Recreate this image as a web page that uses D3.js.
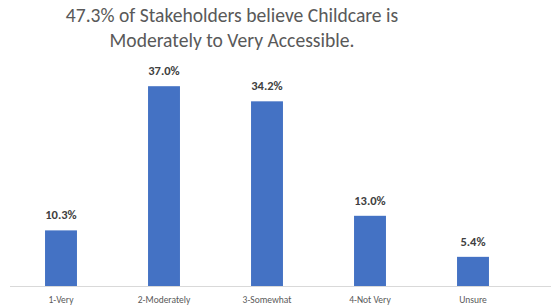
<!DOCTYPE html>
<html>
<head>
<meta charset="utf-8">
<script src="https://cdn.jsdelivr.net/npm/d3@7"></script>
<style>
  html, body { margin: 0; padding: 0; background: #fff; }
  svg { display: block; }
</style>
</head>
<body>
<div id="chart"></div>
<script>
// data
const categories = ["1-Very", "2-Moderately", "3-Somewhat", "4-Not Very", "Unsure"];
const values = [10.3, 37.0, 34.2, 13.0, 5.4];
const titleLines = ["47.3% of Stakeholders believe Childcare is", "Moderately to Very Accessible."];

const width = 551;
const height = 308;
const font = "Calibri, Carlito, Lato, 'Open Sans', sans-serif";

const svg = d3.select("#chart")
    .append("svg")
    .attr("width", width)
    .attr("height", height);

// scales
const x = d3.scaleBand()
    .domain(categories)
    .range([9.5, 524.5])
    .paddingInner(0.69)
    .paddingOuter(0.345);

const y = d3.scaleLinear()
    .domain([0, 40])
    .range([286, 70]);

// title
svg.append("g")
    .selectAll("text")
    .data(titleLines).enter()
    .append("text")
    .attr("x", 232)
    .attr("y", function (d, i) { return 22 + i * 25; })
    .attr("text-anchor", "middle")
    .attr("font-family", font)
    .attr("font-size", 19.6)
    .attr("fill", "#595959")
    .text(function (d) { return d; });

// bars
svg.append("g")
    .selectAll("rect")
    .data(values).enter()
    .append("rect")
    .attr("x", function (d, i) { return x(categories[i]); })
    .attr("y", function (d) { return y(d); })
    .attr("width", x.bandwidth())
    .attr("height", function (d) { return y(0) - y(d); })
    .attr("fill", "#4472C4");

// value labels
svg.append("g")
    .selectAll("text")
    .data(values).enter()
    .append("text")
    .attr("x", function (d, i) { return x(categories[i]) + x.bandwidth() / 2; })
    .attr("y", function (d) { return y(d) - 11; })
    .attr("text-anchor", "middle")
    .attr("font-family", font)
    .attr("font-size", 12.5)
    .attr("font-weight", "bold")
    .attr("fill", "#404040")
    .text(function (d) { return d.toFixed(1) + "%"; });

// x axis
const xAxis = svg.append("g")
    .attr("transform", "translate(0," + y(0) + ")")
    .call(d3.axisBottom(x).tickSize(0).tickPadding(10));

xAxis.select(".domain").remove();
xAxis.selectAll("text")
    .attr("font-family", font)
    .attr("font-size", 9.5)
    .attr("fill", "#595959");

// baseline runs past the last band
svg.append("line")
    .attr("x1", 10)
    .attr("x2", width)
    .attr("y1", y(0) + 0.5)
    .attr("y2", y(0) + 0.5)
    .attr("stroke", "#d9d9d9")
    .attr("stroke-width", 1);
</script>
</body>
</html>
